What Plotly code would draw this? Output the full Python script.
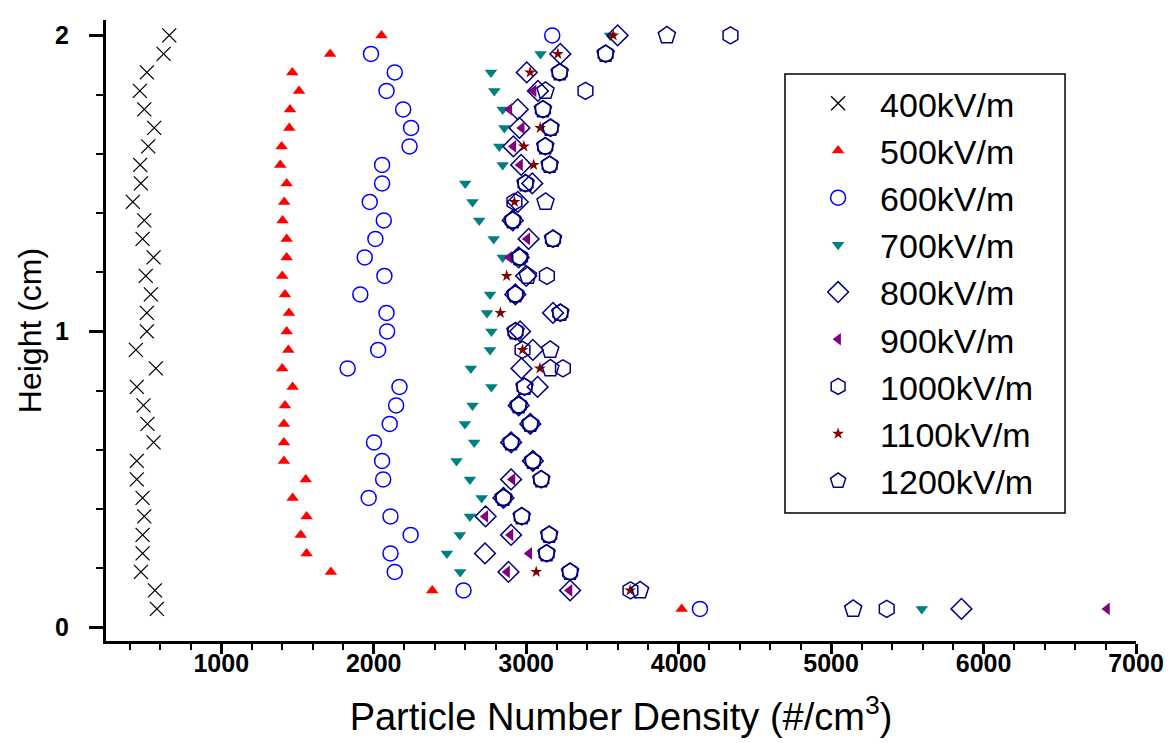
import plotly.graph_objects as go

heights = [0.0625, 0.125, 0.1875, 0.25, 0.3125, 0.375, 0.4375, 0.5,
           0.5625, 0.625, 0.6875, 0.75, 0.8125, 0.875, 0.9375, 1.0,
           1.0625, 1.125, 1.1875, 1.25, 1.3125, 1.375, 1.4375, 1.5,
           1.5625, 1.625, 1.6875, 1.75, 1.8125, 1.875, 1.9375, 2.0]

v400 = [578, 565, 473, 484, 484, 495, 484, 446, 446, 556, 516, 490, 446, 571, 440, 512,
        512, 538, 505, 556, 484, 495, 420, 473, 468, 521, 560, 495, 466, 512, 622, 659]
v500 = [4020, 2384, 1719, 1560, 1521, 1560, 1468, 1554, 1411, 1411, 1411, 1418, 1468, 1400, 1440, 1429,
        1444, 1418, 1400, 1429, 1429, 1402, 1413, 1429, 1387, 1396, 1446, 1451, 1510, 1466, 1714, 2051]
v600 = [4140, 2589, 2138, 2110, 2242, 2110, 1967, 2062, 2055, 2002, 2105, 2147, 2169, 1829, 2029, 2088,
        2084, 1912, 2070, 1941, 2011, 2066, 1974, 2055, 2055, 2235, 2245, 2193, 2084, 2138, 1982, 3171]
v700 = [5595, None, 2567, 2480, 2565, 2631, 2708, 2631, 2543, 2659, 2598, 2648, 2772, 2637, 2763, 2772,
        2743, 2763, None, 2846, 2787, 2692, 2648, 2600, 2846, 2824, 2857, 2846, 2791, 2769, 3094, 3550]
v800 = [5855, 3288, 2884, 2730, 2901, 2734, 2851, 2901, 3044, 2901, 3027, 2951, 3075, 2969, 3044, 2960,
        3176, 2929, 3000, 2951, 3016, 2912, 2945, 3040, 2967, 2916, 2956, 2945, 3077, 3004, 3224, 3600]
v900 = [6810, 3284, 2875, 3020, 2897, 2732, None, 2910, None, None, None, None, None, None, None, None,
        None, None, None, 2890, 3007, None, None, None, 2960, 2916, 2971, 2890, 3049, None, None, None]
v1000 = [5365, 3684, 3288, 3134, 3151, 2971, 2851, 3099, 3044, 2901, 3027, 2951, 2989, 3241, 2976, 2930,
         3224, 2929, 3136, 2960, 3176, 2912, 2923, 2996, 3154, 3125, 3160, 3110, 3389, 3220, 3521, 4340]
v1100 = [None, 3682, 3066, None, None, None, None, None, None, None, None, None, None, 3090, 2976, None,
         2831, None, 2872, None, None, None, 2923, None, 3049, 2985, 3092, None, None, 3026, 3208, 3571]
v1200 = [5145, 3747, 3288, 3134, 3151, 2971, 2851, 3099, 3044, 2901, 3027, 2951, 2989, 3159, 3158, 2930,
         3224, 2929, 3011, 2956, 3176, 2912, 3127, 2996, 3154, 3125, 3160, 3110, 3127, 3220, 3521, 3923]

series = [
    ("400kV/m", v400, dict(symbol="x-thin", size=14, color="black", line=dict(color="black", width=1.3))),
    ("500kV/m", v500, dict(symbol="triangle-up", size=11, color="#FF0000", line=dict(width=0))),
    ("600kV/m", v600, dict(symbol="circle-open", size=15, color="#0000FF", line=dict(color="#0000FF", width=1.5))),
    ("700kV/m", v700, dict(symbol="triangle-down", size=11, color="#008080", line=dict(width=0))),
    ("800kV/m", v800, dict(symbol="diamond-open", size=16, color="#000080", line=dict(color="#000080", width=1.5))),
    ("900kV/m", v900, dict(symbol="triangle-left", size=11, color="#800080", line=dict(width=0))),
    ("1000kV/m", v1000, dict(symbol="hexagon-open", size=17, color="#000080", line=dict(color="#000080", width=1.5))),
    ("1100kV/m", v1100, dict(symbol="star", size=9, color="#800000", line=dict(width=0))),
    ("1200kV/m", v1200, dict(symbol="pentagon-open", size=18, color="#000080", line=dict(color="#000080", width=1.5))),
]

fig = go.Figure()
for name, vals, mk in series:
    fig.add_trace(go.Scatter(x=vals, y=heights, mode="markers", name=name, marker=mk,
                             cliponaxis=False))

xr = [244, 7000]
yr = [-0.046, 2.052]
tickfont = dict(family="Liberation Sans", size=25, color="black", weight="bold")

fig.update_layout(
    width=1172, height=743,
    margin=dict(l=98, r=44, t=12, b=110),
    paper_bgcolor="white", plot_bgcolor="white",
    font=dict(family="Liberation Sans", color="black"),
    showlegend=True,
    legend=dict(x=0.670, y=0.912, xanchor="left", yanchor="top",
                borderwidth=0, bgcolor="rgba(0,0,0,0)",
                font=dict(family="Liberation Sans", size=34, color="black"),
                itemwidth=74, tracegroupgap=0),
    shapes=[dict(type="rect", xref="paper", yref="paper", x0=0.6592, x1=0.9311, y0=0.2061, y1=0.9130,
                 line=dict(color="black", width=1.5), fillcolor="rgba(0,0,0,0)", layer="below")],
    xaxis=dict(range=xr, showgrid=False, zeroline=False, showline=True, linecolor="black", linewidth=3,
               ticks="outside", ticklen=10, tickwidth=2.5, tickcolor="black",
               tick0=0, dtick=1000, tickfont=tickfont, ticklabelstandoff=-12, automargin=False,
               minor=dict(ticks="outside", ticklen=6, tickwidth=2, tickcolor="black", dtick=200, showgrid=False),
               title=dict(text="Particle Number Density (#/cm<sup>3</sup>)",
                          font=dict(family="Liberation Sans", size=38, color="black"), standoff=28)),
    yaxis=dict(range=yr, showgrid=False, zeroline=False, showline=True, linecolor="black", linewidth=3,
               ticks="outside", ticklen=14, tickwidth=2.5, tickcolor="black",
               tick0=0, dtick=1, tickfont=tickfont, ticklabelstandoff=15, automargin=False,
               minor=dict(ticks="outside", ticklen=7, tickwidth=2, tickcolor="black", dtick=0.2, showgrid=False),
               title=dict(text="Height (cm)", font=dict(family="Liberation Sans", size=32, color="black"),
                          standoff=4)),
    xaxis2=dict(range=xr, overlaying="x", side="top", showgrid=False, zeroline=False, showline=True,
                linecolor="black", linewidth=3, ticks="inside", ticklen=14, tickwidth=2.5, tickcolor="black",
                tick0=0, dtick=1000, showticklabels=False,
                minor=dict(ticks="inside", ticklen=7, tickwidth=2, tickcolor="black", dtick=200)),
    yaxis2=dict(range=yr, overlaying="y", side="right", showgrid=False, zeroline=False, showline=True,
                linecolor="black", linewidth=3, ticks="inside", ticklen=14, tickwidth=2.5, tickcolor="black",
                tick0=0, dtick=1, showticklabels=False,
                minor=dict(ticks="inside", ticklen=7, tickwidth=2, tickcolor="black", dtick=0.2)),
)

fig.write_html("out.html")
